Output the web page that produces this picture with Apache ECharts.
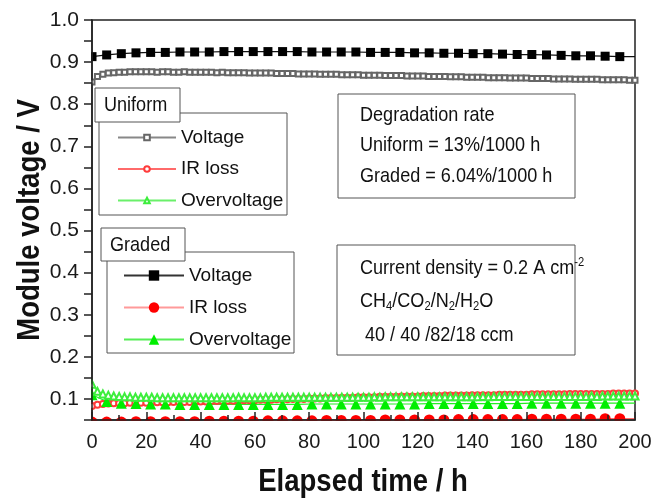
<!DOCTYPE html>
<html>
<head>
<meta charset="utf-8">
<script src="https://cdn.jsdelivr.net/npm/echarts@6/dist/echarts.min.js"></script>
<style>
  html, body { margin: 0; padding: 0; background: #fff; }
  #chart { width: 655px; height: 500px; }
</style>
</head>
<body>
<div id="chart"></div>
<script>
// Elapsed time (h) of the densely logged uniform-module series
const uniformTime = [0, 2, 4, 6, 8, 10, 12, 14, 16, 18, 20, 22, 24, 26, 28, 30, 32, 34, 36, 38, 40,
  42, 44, 46, 48, 50, 52, 54, 56, 58, 60, 62, 64, 66, 68, 70, 72, 74, 76, 78, 80,
  82, 84, 86, 88, 90, 92, 94, 96, 98, 100, 102, 104, 106, 108, 110, 112, 114, 116, 118, 120,
  122, 124, 126, 128, 130, 132, 134, 136, 138, 140, 142, 144, 146, 148, 150, 152, 154, 156, 158, 160,
  162, 164, 166, 168, 170, 172, 174, 176, 178, 180, 182, 184, 186, 188, 190, 192, 194, 196, 198, 200];

const uniformVoltage = [0.853, 0.866, 0.871, 0.874, 0.875, 0.876,
  0.876, 0.877, 0.877, 0.877, 0.877, 0.877, 0.876, 0.877, 0.877, 0.876, 0.876, 0.877, 0.876, 0.876, 0.876,
  0.876, 0.876, 0.875, 0.876, 0.875, 0.875, 0.875, 0.875, 0.874, 0.874,
  0.874, 0.874, 0.874, 0.873, 0.873, 0.873, 0.873, 0.872, 0.872, 0.872,
  0.872, 0.871, 0.871, 0.871, 0.871, 0.870, 0.870, 0.870, 0.870, 0.869,
  0.869, 0.869, 0.869, 0.868, 0.868, 0.868, 0.868, 0.867, 0.867, 0.867,
  0.867, 0.866, 0.866, 0.866, 0.866, 0.865, 0.865, 0.865, 0.864, 0.864,
  0.864, 0.864, 0.863, 0.863, 0.863, 0.863, 0.862, 0.862, 0.862, 0.862,
  0.861, 0.861, 0.861, 0.861, 0.860, 0.860, 0.860, 0.860, 0.859, 0.859,
  0.859, 0.859, 0.859, 0.858, 0.858, 0.858, 0.858, 0.858, 0.857, 0.857];

const uniformIRLoss = [0.083, 0.086, 0.088, 0.089, 0.090, 0.090,
  0.090, 0.091, 0.091, 0.091, 0.091, 0.092, 0.092, 0.092, 0.092, 0.093, 0.093, 0.093, 0.093, 0.094, 0.094,
  0.094, 0.095, 0.095, 0.095, 0.096, 0.096, 0.096, 0.097, 0.097, 0.097,
  0.098, 0.098, 0.098, 0.099, 0.099, 0.099, 0.100, 0.100, 0.100, 0.101,
  0.101, 0.101, 0.102, 0.102, 0.102, 0.103, 0.103, 0.103, 0.104, 0.104,
  0.104, 0.104, 0.105, 0.105, 0.105, 0.105, 0.106, 0.106, 0.106, 0.106,
  0.107, 0.107, 0.107, 0.107, 0.108, 0.108, 0.108, 0.108, 0.108, 0.109,
  0.109, 0.109, 0.109, 0.109, 0.110, 0.110, 0.110, 0.110, 0.110, 0.110,
  0.111, 0.111, 0.111, 0.111, 0.111, 0.111, 0.111, 0.112, 0.112, 0.112,
  0.112, 0.112, 0.112, 0.112, 0.112, 0.113, 0.113, 0.113, 0.113, 0.113];

const uniformOvervoltage = [0.135, 0.118, 0.112, 0.109, 0.107, 0.106,
  0.105, 0.105, 0.104, 0.104, 0.104, 0.104, 0.103, 0.103, 0.103, 0.103, 0.103, 0.103, 0.103, 0.103, 0.103,
  0.103, 0.103, 0.103, 0.103, 0.103, 0.103, 0.104, 0.103, 0.103, 0.103,
  0.103, 0.104, 0.104, 0.104, 0.104, 0.104, 0.104, 0.104, 0.104, 0.104,
  0.104, 0.104, 0.104, 0.104, 0.104, 0.104, 0.104, 0.104, 0.104, 0.104,
  0.104, 0.105, 0.104, 0.105, 0.105, 0.105, 0.105, 0.105, 0.105, 0.105,
  0.105, 0.105, 0.105, 0.105, 0.105, 0.105, 0.105, 0.105, 0.105, 0.105,
  0.105, 0.106, 0.105, 0.106, 0.106, 0.106, 0.106, 0.106, 0.106, 0.106,
  0.106, 0.106, 0.106, 0.106, 0.106, 0.106, 0.106, 0.106, 0.106, 0.106,
  0.106, 0.107, 0.106, 0.107, 0.107, 0.107, 0.107, 0.107, 0.107, 0.107];

// Elapsed time (h) of the graded-module series (last entry is the end of the run)
const gradedTime = [0, 5.4, 10.8, 16.2, 21.6, 27, 32.4, 37.8, 43.2, 48.6,
  54, 59.4, 64.8, 70.2, 75.6, 81, 86.4, 91.8, 97.2, 102.6,
  108, 113.4, 118.8, 124.2, 129.6, 135, 140.4, 145.8, 151.2, 156.6,
  162, 167.4, 172.8, 178.2, 183.6, 189, 194.4, 200];

const gradedVoltage = [0.913, 0.917, 0.920, 0.922, 0.923, 0.923, 0.924, 0.924, 0.924, 0.925,
  0.925, 0.925, 0.925, 0.925, 0.925, 0.924, 0.924, 0.924, 0.924, 0.923,
  0.923, 0.923, 0.922, 0.922, 0.921, 0.921, 0.920, 0.920, 0.919, 0.918,
  0.918, 0.917, 0.916, 0.915, 0.915, 0.914, 0.913, 0.913];

const gradedIRLoss = [0.045, 0.045, 0.045, 0.046, 0.046, 0.046, 0.046, 0.046, 0.047, 0.047,
  0.047, 0.047, 0.048, 0.048, 0.048, 0.048, 0.049, 0.049, 0.049, 0.049,
  0.050, 0.050, 0.050, 0.050, 0.050, 0.051, 0.051, 0.051, 0.051, 0.051,
  0.052, 0.052, 0.052, 0.052, 0.052, 0.053, 0.053, 0.053];

const gradedOvervoltage = [0.110, 0.094, 0.090, 0.089, 0.088, 0.088, 0.087, 0.087, 0.087, 0.087,
  0.087, 0.087, 0.087, 0.087, 0.087, 0.088, 0.088, 0.088, 0.088, 0.088,
  0.088, 0.088, 0.088, 0.089, 0.089, 0.089, 0.089, 0.089, 0.089, 0.089,
  0.090, 0.090, 0.090, 0.090, 0.090, 0.090, 0.090, 0.090];

// Axis ranges and titles
const xRange = [0, 200];
const yRange = [0.05, 1.0];
const xTitle = 'Elapsed time / h';
const yTitle = 'Module voltage / V';

// Legend and annotation texts
const itemLabels = ['Voltage', 'IR loss', 'Overvoltage'];
const groupLabels = ['Uniform', 'Graded'];
const rateLines = ['Degradation rate', 'Uniform = 13%/1000 h', 'Graded = 6.04%/1000 h'];
const conditionLines = ['Current density = 0.2 A cm{sup|-2}',
  'CH{sub|4}/CO{sub|2}/N{sub|2}/H{sub|2}O',
  ' 40 / 40 /82/18 ccm'];

const SANS = "'Liberation Sans', Arial, sans-serif";
const NARROW_SCALE = 0.86;   // horizontal squeeze giving a condensed face

function pairs(xs, ys) { return xs.map((x, i) => [x, ys[i]]); }
// graded series: markers only at the logged points, plain line to the end of the run
function gradedPairs(ys) {
  return gradedTime.map((x, i) => i === gradedTime.length - 1
    ? { value: [x, ys[i]], symbol: 'none' }
    : [x, ys[i]]);
}

const names = {
  uV: 'Uniform Voltage', uR: 'Uniform IR loss', uO: 'Uniform Overvoltage',
  gV: 'Graded Voltage', gR: 'Graded IR loss', gO: 'Graded Overvoltage'
};
const shortName = {};
shortName[names.uV] = itemLabels[0]; shortName[names.uR] = itemLabels[1]; shortName[names.uO] = itemLabels[2];
shortName[names.gV] = itemLabels[0]; shortName[names.gR] = itemLabels[1]; shortName[names.gO] = itemLabels[2];

const chart = echarts.init(document.getElementById('chart'), null, { renderer: 'canvas' });

function condensedText(x, y, text, font, extra) {
  return Object.assign({
    type: 'text', x: x, y: y, z: 12, silent: true, scaleX: NARROW_SCALE,
    style: {
      text: text, fill: '#111', font: font,
      textVerticalAlign: 'middle', verticalAlign: 'middle',
      textAlign: 'left', align: 'left'
    }
  }, extra || {});
}
function boxText(x, y, text) {
  return condensedText(x, y, text, '21px ' + SANS);
}
const richStyles = {
  sup: { fontSize: 13, fontFamily: SANS, fill: '#111', color: '#111', verticalAlign: 'top', lineHeight: 8 },
  sub: { fontSize: 13, fontFamily: SANS, fill: '#111', color: '#111', verticalAlign: 'bottom', lineHeight: 8 }
};
function richText(x, y, text) {
  const t = boxText(x, y, text);
  t.style.rich = richStyles;
  t.style.lineHeight = 24;
  return t;
}
function frame(x, y, w, h, fill, z) {
  return { type: 'rect', z: z, silent: true, shape: { x: x, y: y, width: w, height: h },
    style: { fill: fill, stroke: '#555', lineWidth: 1 } };
}

const xTitleEl = condensedText(363, 482, xTitle, 'bold 32px ' + SANS);
xTitleEl.style.textAlign = 'center'; xTitleEl.style.align = 'center';
const yTitleEl = condensedText(30, 220, yTitle, 'bold 32px ' + SANS, { rotation: Math.PI / 2 });
yTitleEl.style.textAlign = 'center'; yTitleEl.style.align = 'center';

const option = {
  animation: false,
  backgroundColor: '#fff',
  grid: { left: 92, right: 20, top: 20, bottom: 80, show: true, borderColor: '#222', borderWidth: 1.5, backgroundColor: 'transparent' },
  xAxis: [{
    type: 'value', min: xRange[0], max: xRange[1], interval: 20, position: 'bottom', z: 10,
    axisLine: { show: true, onZero: false, lineStyle: { color: '#222', width: 1.5 } },
    axisTick: { show: true, inside: true, length: 8, lineStyle: { color: '#222', width: 1.5 } },
    axisLabel: { fontFamily: SANS, fontSize: 20, color: '#1a1a1a', margin: 12 },
    splitLine: { show: false }
  }, {
    type: 'value', min: xRange[0], max: xRange[1], interval: 10, position: 'bottom', z: 10,
    axisLine: { show: false, onZero: false },
    axisTick: { show: true, inside: true, length: 5, lineStyle: { color: '#222', width: 1.5 } },
    axisLabel: { show: false },
    splitLine: { show: false }
  }],
  yAxis: [{
    type: 'value', min: yRange[0], max: yRange[1], interval: 0.05, z: 10,
    axisLine: { show: true, onZero: false, lineStyle: { color: '#222', width: 1.5 } },
    axisTick: { show: true, inside: false, length: 8, lineStyle: { color: '#222', width: 1.5 } },
    axisLabel: {
      fontFamily: SANS, fontSize: 21, color: '#1a1a1a', margin: 13,
      formatter: v => (Math.round(v * 100) % 10 === 0 ? v.toFixed(1) : '')
    },
    splitLine: { show: false }
  }],
  legend: [{
    data: [
      { name: names.uV, lineStyle: { color: '#888' } },
      { name: names.uR, lineStyle: { color: '#ff6a6a' } },
      { name: names.uO, lineStyle: { color: '#6af06a' } }
    ],
    orient: 'vertical', left: 117, top: 128, padding: 0, itemGap: 12.5,
    itemWidth: 58, itemHeight: 7, selectedMode: false, z: 8,
    formatter: n => shortName[n],
    textStyle: { fontFamily: SANS, fontSize: 19, color: '#111' }
  }, {
    data: [
      { name: names.gV, lineStyle: { color: '#333' } },
      { name: names.gR, lineStyle: { color: '#ff9a9a' } },
      { name: names.gO, lineStyle: { color: '#55ee55' } }
    ],
    orient: 'vertical', left: 123, top: 266, padding: 0, itemGap: 13,
    itemWidth: 60, itemHeight: 13, selectedMode: false, z: 8,
    formatter: n => shortName[n],
    textStyle: { fontFamily: SANS, fontSize: 19, color: '#111' }
  }],
  series: [{
    name: names.uV, type: 'line', data: pairs(uniformTime, uniformVoltage),
    symbol: 'emptyRect', symbolSize: 5, showAllSymbol: true, z: 2,
    lineStyle: { color: '#555', width: 1 }, itemStyle: { color: '#666', borderWidth: 1 }
  }, {
    name: names.uR, type: 'line', data: pairs(uniformTime, uniformIRLoss),
    symbol: 'emptyCircle', symbolSize: 6, showAllSymbol: true, z: 2,
    lineStyle: { color: '#ff3b3b', width: 1 }, itemStyle: { color: '#ff3b3b', borderWidth: 1 }
  }, {
    name: names.uO, type: 'line', data: pairs(uniformTime, uniformOvervoltage),
    symbol: 'emptyTriangle', symbolSize: 7, showAllSymbol: true, z: 3,
    lineStyle: { color: '#3cee3c', width: 1 }, itemStyle: { color: '#3cee3c', borderWidth: 1 }
  }, {
    name: names.gV, type: 'line', data: gradedPairs(gradedVoltage),
    symbol: 'rect', symbolSize: 9, showAllSymbol: true, z: 3,
    lineStyle: { color: '#111', width: 1.2 }, itemStyle: { color: '#000' }
  }, {
    name: names.gR, type: 'line', data: gradedPairs(gradedIRLoss),
    symbol: 'circle', symbolSize: 11, showAllSymbol: true, z: 3, clip: false,
    lineStyle: { color: '#ff4040', width: 1 }, itemStyle: { color: '#ff0000' }
  }, {
    name: names.gO, type: 'line', data: gradedPairs(gradedOvervoltage),
    symbol: 'triangle', symbolSize: 11, showAllSymbol: true, z: 2,
    lineStyle: { color: '#22ee22', width: 1.2 }, itemStyle: { color: '#00ee00' }
  }],
  graphic: [
    // masks outside the plotting area (axes are drawn above them)
    { type: 'rect', z: 5, silent: true, shape: { x: 0, y: 421, width: 655, height: 79 }, style: { fill: '#fff' } },
    { type: 'rect', z: 5, silent: true, shape: { x: 0, y: 0, width: 91, height: 421 }, style: { fill: '#fff' } },
    // axis titles
    xTitleEl,
    yTitleEl,
    // legend frames and tabs
    frame(99, 113, 188, 102, 'none', 6),
    frame(107, 252, 187, 101, 'none', 6),
    frame(95, 88, 85, 34, '#fff', 7),
    boxText(104, 105, groupLabels[0]),
    frame(101, 228, 84, 33, '#fff', 7),
    boxText(110, 245, groupLabels[1]),
    // degradation rate box
    frame(338, 94, 237, 104, 'none', 6),
    boxText(360, 115, rateLines[0]),
    boxText(360, 145, rateLines[1]),
    boxText(360, 176, rateLines[2]),
    // operating conditions box
    frame(337, 245, 238, 110, 'none', 6),
    richText(360, 268, conditionLines[0]),
    richText(360, 301, conditionLines[1]),
    richText(360, 335, conditionLines[2])
  ]
};

chart.setOption(option);
</script>
</body>
</html>
